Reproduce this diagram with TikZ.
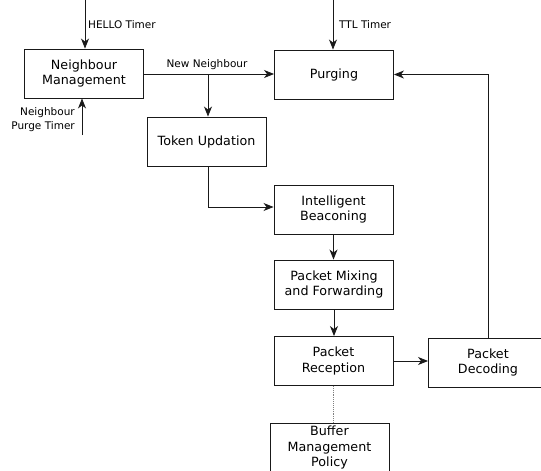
\documentclass[tikz,border=0pt]{standalone}
\usepackage{fontspec}
\setmainfont{DejaVu Sans}
\usetikzlibrary{arrows.meta}
\begin{document}
\begin{tikzpicture}[x=1pt,y=-1pt,
  box/.style={draw=black!90, line width=0.9pt, minimum width=119pt, minimum height=49pt, inner sep=0pt, align=center, font=\fontsize{12.7}{15.5}\selectfont},
  lbl/.style={inner sep=0pt, font=\fontsize{10.5}{14}\selectfont},
  conn/.style={draw=black!90, line width=0.9pt},
  arr/.style={conn, -{Stealth[length=10pt,width=8pt,inset=3pt]}}]
\useasboundingbox (0,0) rectangle (541,471);
\clip (0,0) rectangle (541,471);
\node[box] (nm) at (84,73.5) {Neighbour\\Management};
\node[box] (purge) at (334,74.5) {Purging};
\node[box] (token) at (206.5,141.5) {Token Updation};
\node[box] (ib) at (333.5,209.5) {Intelligent\\Beaconing};
\node[box] (pmf) at (334,284.5) {Packet Mixing\\and Forwarding};
\node[box] (pr) at (333.5,361) {Packet\\Reception};
\node[box] (pd) at (488,362.5) {Packet\\Decoding};
\node[box] (buf) at (329.5,447.5) {Buffer\\Management\\Policy};
\coordinate (hello) at (85,0);
\coordinate (ptimer) at (82,135);
\coordinate (ttl) at (333,0);
\coordinate (br) at (208,74);
\coordinate (tb) at (208,207);
\node[lbl, anchor=west] (hellolbl) at (88,25) {HELLO Timer};
\node[lbl, anchor=west] (ttllbl) at (339,25) {TTL Timer};
\node[lbl, align=right, anchor=east] (ptlbl) at (75,120) {Neighbour\\Purge Timer};
\node[lbl, anchor=south] (nnlbl) at (207,70) {New Neighbour};
\draw[arr] (hello) -- (hello |- nm.north);
\draw[arr] (ptimer) -- (ptimer |- nm.south);
\draw[arr] (ttl) -- (ttl |- purge.north);
\draw[arr] (nm.east |- br) -- (br -| purge.west);
\draw[arr] (br) -- (br |- token.north);
\draw[arr] (br |- token.south) -- (tb) -- (tb -| ib.west);
\draw[arr] (ib.south) -- (ib.south |- pmf.north);
\draw[arr] (pmf.south) -- (pmf.south |- pr.north);
\draw[arr] (pr.east) -- (pr.east -| pd.west);
\draw[arr] (pd.north) -- (pd.north |- purge.east) -- (purge.east);
\draw[conn, densely dotted, draw=black!50] (pr.south) -- (pr.south |- buf.north);
\end{tikzpicture}
\end{document}
